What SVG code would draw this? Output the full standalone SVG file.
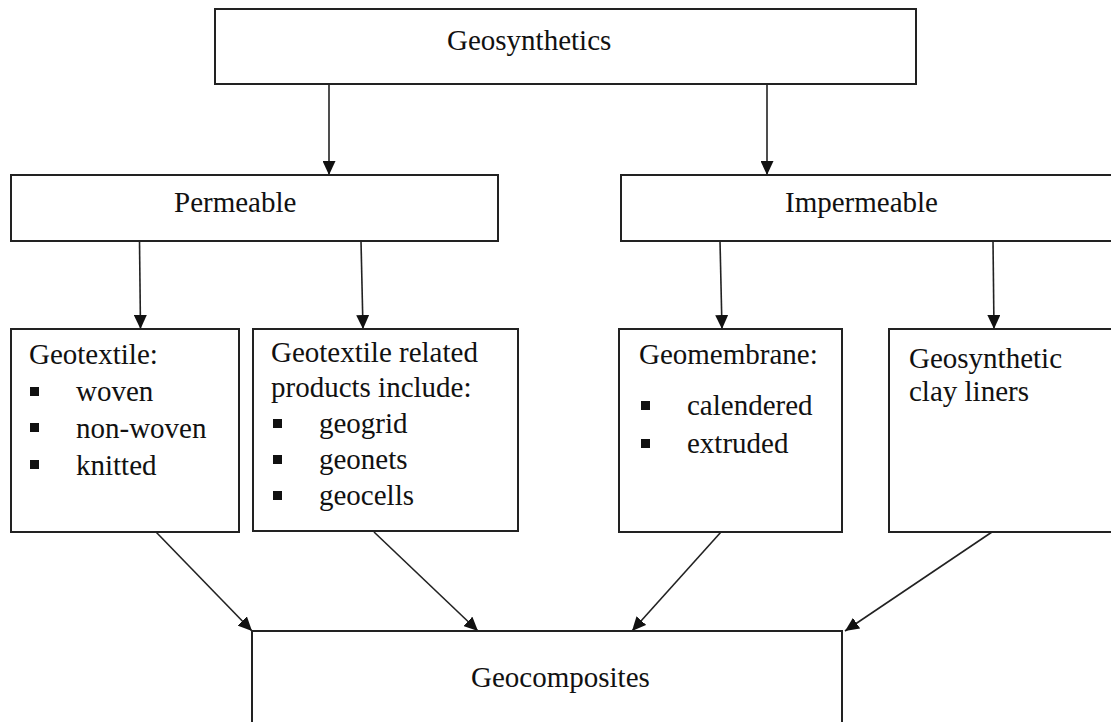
<svg xmlns="http://www.w3.org/2000/svg" xmlns:xlink="http://www.w3.org/1999/xlink" width="1111" height="722" viewBox="0 0 1111 722">
<style>
.box{fill:#fff;stroke:#222;stroke-width:2}
.t{font-family:"Liberation Serif","Times New Roman",serif;font-size:29px;fill:#111}
.c{stroke:#222;stroke-width:1.6;fill:none;marker-end:url(#ah)}
.b{fill:#111}
</style>
<defs>
<marker id="ah" markerUnits="userSpaceOnUse" markerWidth="15" markerHeight="13" refX="14" refY="6.5" orient="auto">
<path d="M0,0 L14,6.5 L0,13 z" fill="#111"/>
</marker>
<rect id="bl" class="b" width="9" height="9"/>
</defs>
<rect width="1111" height="722" fill="#fff"/>
<g id="connectors">
<line class="c" x1="329" y1="84" x2="329" y2="175"/>
<line class="c" x1="767" y1="84" x2="767" y2="175"/>
<line class="c" x1="139.5" y1="241" x2="140.5" y2="329"/>
<line class="c" x1="361" y1="241" x2="363" y2="329"/>
<line class="c" x1="720" y1="241" x2="722" y2="329"/>
<line class="c" x1="993" y1="241" x2="994" y2="329"/>
<line class="c" x1="156" y1="532" x2="252" y2="631"/>
<line class="c" x1="374" y1="532" x2="478" y2="631"/>
<line class="c" x1="721" y1="532" x2="632" y2="631"/>
<line class="c" x1="992" y1="532" x2="845" y2="631"/>
</g>
<g id="geosynthetics">
<rect class="box" x="215" y="9" width="701" height="75"/>
<text class="t" x="447" y="50">Geosynthetics</text>
</g>
<g id="permeable">
<rect class="box" x="11" y="175" width="487" height="66"/>
<text class="t" x="174" y="212">Permeable</text>
</g>
<g id="impermeable">
<rect class="box" x="621" y="175" width="492" height="66"/>
<text class="t" x="785" y="212">Impermeable</text>
</g>
<g id="geotextile">
<rect class="box" x="11" y="329" width="228" height="203"/>
<text class="t" x="29" y="364">Geotextile:</text>
<use xlink:href="#bl" x="30" y="387"/>
<text class="t" x="76" y="401">woven</text>
<use xlink:href="#bl" x="30" y="423"/>
<text class="t" x="76" y="438">non-woven</text>
<use xlink:href="#bl" x="30" y="460"/>
<text class="t" x="76" y="475">knitted</text>
</g>
<g id="related">
<rect class="box" x="253" y="329" width="265" height="202"/>
<text class="t" x="271" y="362">Geotextile related</text>
<text class="t" x="271" y="397">products include:</text>
<use xlink:href="#bl" x="273" y="419"/>
<text class="t" x="319" y="433">geogrid</text>
<use xlink:href="#bl" x="273" y="455"/>
<text class="t" x="319" y="469">geonets</text>
<use xlink:href="#bl" x="273" y="491"/>
<text class="t" x="319" y="505">geocells</text>
</g>
<g id="geomembrane">
<rect class="box" x="619" y="329" width="223" height="203"/>
<text class="t" x="639" y="364">Geomembrane:</text>
<use xlink:href="#bl" x="641" y="401"/>
<text class="t" x="687" y="415">calendered</text>
<use xlink:href="#bl" x="641" y="439"/>
<text class="t" x="687" y="453">extruded</text>
</g>
<g id="gcl">
<rect class="box" x="889" y="329" width="224" height="203"/>
<text class="t" x="909" y="368">Geosynthetic</text>
<text class="t" x="909" y="401">clay liners</text>
</g>
<g id="geocomposites">
<rect class="box" x="252" y="631" width="590" height="100"/>
<text class="t" x="471" y="687">Geocomposites</text>
</g>
</svg>
